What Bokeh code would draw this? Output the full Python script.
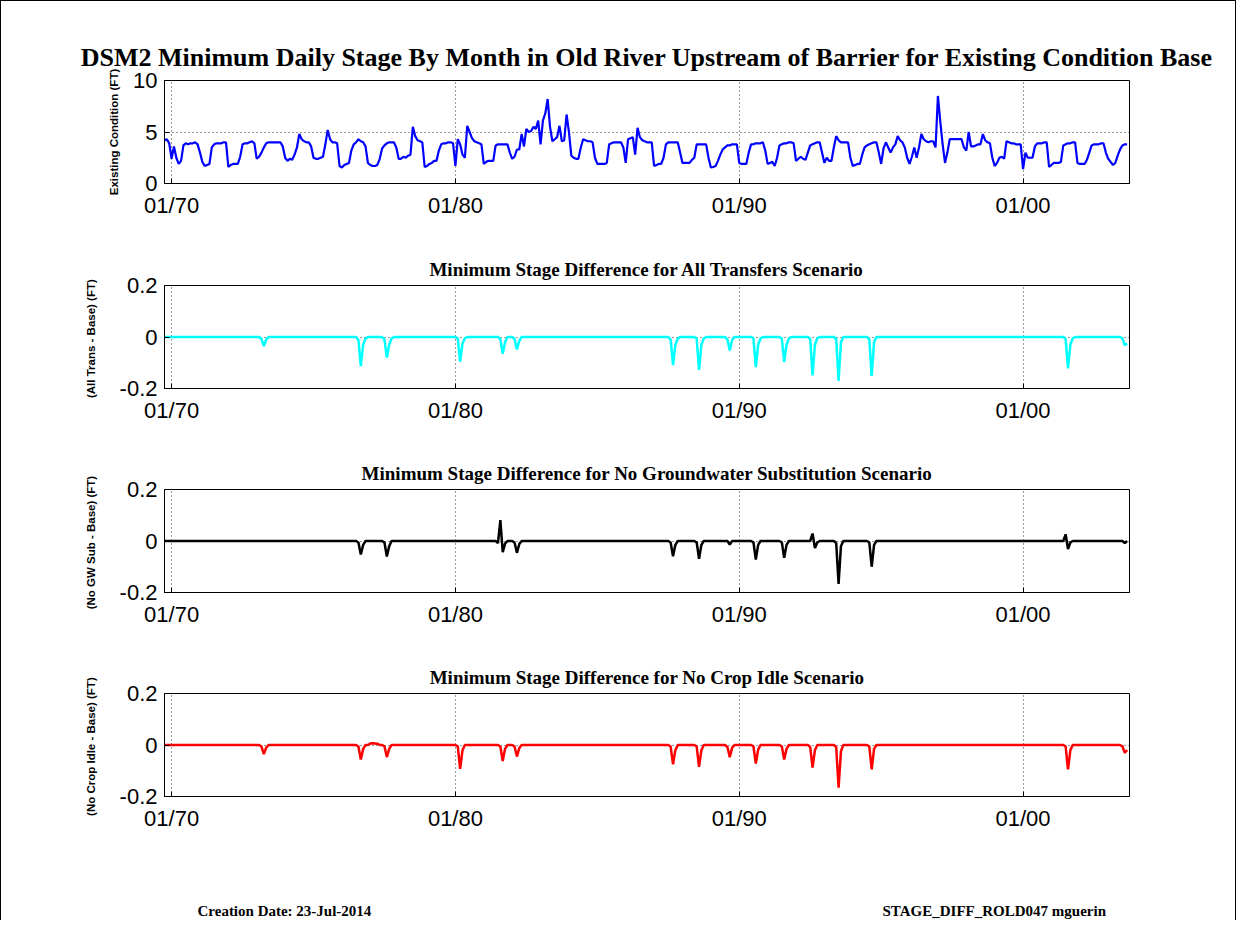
import numpy as np
from bokeh.plotting import figure
from bokeh.layouts import column
from bokeh.models import FixedTicker, Title
from bokeh.core.properties import value
from bokeh.embed import file_html
from bokeh.resources import INLINE

# ---------------- data ----------------
# monthly values, first month = Oct 1969, one row per water year (Oct..Sep)
existing_condition_ft = [
    4.2, 4.3, 3.9, 2.4, 3.6, 2.5, 1.9, 2.2, 3.7, 3.9, 3.8, 3.9,   # WY1970
    3.9, 4.0, 3.8, 3.0, 2.1, 1.7, 1.8, 1.9, 3.5, 3.8, 3.9, 3.9,   # WY1971
    3.9, 4.0, 4.0, 1.6, 1.8, 1.9, 1.9, 1.9, 2.6, 3.8, 3.9, 3.9,   # WY1972
    4.0, 4.1, 3.9, 2.4, 2.6, 3.0, 3.5, 3.9, 4.0, 4.0, 4.0, 4.0,   # WY1973
    4.0, 4.0, 3.6, 2.5, 2.2, 2.4, 2.3, 2.8, 3.5, 4.8, 4.3, 4.1,   # WY1974
    4.0, 4.0, 3.6, 2.5, 2.4, 2.4, 2.5, 2.6, 3.8, 5.2, 4.3, 4.0,   # WY1975
    4.0, 3.9, 1.7, 1.55, 1.8, 1.9, 2.0, 3.2, 3.8, 4.0, 4.3, 4.1,  # WY1976
    4.0, 3.6, 2.0, 1.8, 1.7, 1.7, 1.8, 2.4, 3.4, 3.7, 3.9, 4.0,   # WY1977
    4.0, 4.0, 3.5, 2.4, 2.4, 2.6, 2.5, 2.7, 2.8, 5.5, 4.6, 4.2,   # WY1978
    4.1, 4.0, 1.6, 1.7, 1.9, 2.0, 2.2, 2.2, 3.2, 3.8, 3.9, 3.9,   # WY1979
    4.0, 4.0, 3.9, 1.7, 4.3, 3.8, 2.8, 2.5, 5.6, 5.0, 4.4, 4.1,   # WY1980
    4.0, 3.9, 3.8, 1.9, 2.1, 2.2, 2.2, 2.2, 3.7, 3.8, 3.8, 3.8,   # WY1981
    3.8, 3.8, 3.0, 2.4, 2.6, 3.3, 3.3, 4.8, 3.6, 5.3, 5.0, 5.1,   # WY1982
    5.5, 5.3, 6.1, 3.8, 6.1, 6.8, 8.2, 5.5, 4.1, 4.3, 4.5, 5.6,   # WY1983
    4.1, 4.2, 6.7, 5.0, 2.7, 2.5, 2.4, 2.4, 3.5, 4.3, 4.2, 4.1,   # WY1984
    4.1, 4.0, 2.5, 1.9, 1.9, 1.9, 1.9, 2.0, 3.8, 3.9, 4.0, 4.0,   # WY1985
    4.0, 4.0, 3.5, 2.0, 4.3, 4.4, 4.5, 2.8, 5.4, 4.5, 4.2, 4.1,   # WY1986
    4.0, 4.0, 4.0, 1.7, 1.8, 1.9, 1.9, 2.5, 3.8, 4.0, 4.0, 4.0,   # WY1987
    4.0, 4.0, 3.0, 2.0, 2.0, 2.0, 2.0, 2.3, 2.5, 3.8, 3.8, 3.8,   # WY1988
    3.8, 3.8, 2.5, 1.55, 1.6, 1.7, 2.2, 2.8, 3.3, 3.5, 3.7, 3.7,  # WY1989
    3.8, 3.8, 3.8, 2.0, 1.9, 1.9, 1.9, 3.0, 3.8, 3.8, 3.9, 3.9,   # WY1990
    3.9, 4.0, 3.2, 1.9, 2.0, 2.1, 1.7, 2.5, 3.7, 3.8, 3.9, 3.9,   # WY1991
    4.0, 4.0, 3.9, 2.2, 2.4, 2.6, 2.4, 2.3, 3.0, 3.7, 3.8, 3.9,   # WY1992
    4.0, 4.0, 3.0, 2.0, 2.5, 2.2, 2.2, 3.5, 4.6, 4.2, 4.0, 4.0,   # WY1993
    4.0, 4.0, 2.5, 1.7, 1.8, 1.9, 1.9, 2.8, 3.5, 3.7, 3.8, 3.9,   # WY1994
    4.0, 4.0, 3.0, 1.9, 3.4, 4.0, 3.5, 3.0, 3.5, 3.8, 4.6, 4.2,   # WY1995
    4.0, 3.5, 2.5, 1.9, 2.6, 3.5, 2.5, 3.5, 4.8, 4.3, 4.1, 4.0,   # WY1996
    4.1, 4.1, 3.5, 8.5, 6.0, 3.8, 2.0, 3.0, 4.3, 4.3, 4.3, 4.3,   # WY1997
    4.3, 4.3, 3.5, 3.2, 5.0, 3.6, 3.6, 3.7, 3.8, 3.8, 4.8, 4.2,   # WY1998
    4.0, 3.9, 2.5, 1.7, 2.0, 2.5, 2.6, 2.4, 4.1, 4.0, 3.9, 3.9,   # WY1999
    3.8, 3.8, 3.8, 1.4, 3.0, 2.5, 2.5, 2.5, 3.6, 3.9, 3.9, 3.9,   # WY2000
    4.0, 4.0, 1.6, 1.8, 2.0, 2.0, 2.0, 2.1, 3.7, 3.8, 3.9, 3.9,   # WY2001
    4.0, 4.0, 2.0, 1.9, 1.9, 1.9, 2.3, 3.0, 3.7, 3.8, 3.8, 3.8,   # WY2002
    3.9, 3.9, 3.0, 2.4, 2.1, 1.8, 2.0, 2.7, 3.3, 3.7, 3.8, 3.8,   # WY2003
]

# stage differences (ft); months not listed are 0
all_trans_months = [
    "1973-03", "1973-04", "1973-05",
    "1976-08", "1976-09", "1976-10", "1976-11",
    "1977-07", "1977-08", "1977-09", "1977-10",
    "1980-02", "1980-03", "1980-04", "1980-05",
    "1981-08", "1981-09", "1981-10",
    "1982-02", "1982-03", "1982-04",
    "1987-08", "1987-09", "1987-10", "1987-11",
    "1988-07", "1988-08", "1988-09", "1988-10",
    "1989-08", "1989-09", "1989-10",
    "1990-07", "1990-08", "1990-09", "1990-10",
    "1991-07", "1991-08", "1991-09", "1991-10",
    "1992-07", "1992-08", "1992-09", "1992-10",
    "1993-06", "1993-07", "1993-08",
    "1994-08", "1994-09", "1994-10",
    "2001-07", "2001-08", "2001-09", "2001-10",
    "2003-07", "2003-08", "2003-09"]
all_trans_diff = [
    -0.008, -0.035, -0.01,
    -0.012, -0.113, -0.03, -0.006,
    -0.01, -0.08, -0.03, -0.006,
    -0.005, -0.096, -0.025, -0.005,
    -0.008, -0.065, -0.02,
    -0.008, -0.048, -0.015,
    -0.01, -0.109, -0.03, -0.006,
    -0.006, -0.128, -0.03, -0.006,
    -0.01, -0.052, -0.012,
    -0.005, -0.117, -0.03, -0.006,
    -0.006, -0.097, -0.03, -0.006,
    -0.008, -0.149, -0.03, -0.005,
    -0.008, -0.171, -0.02,
    -0.01, -0.151, -0.02,
    -0.008, -0.122, -0.03, -0.005,
    -0.005, -0.032, -0.025]

no_gw_months = [
    "1976-08", "1976-09", "1976-10",
    "1977-07", "1977-08", "1977-09",
    "1981-07", "1981-08", "1981-09", "1981-10",
    "1982-02", "1982-03", "1982-04",
    "1987-08", "1987-09", "1987-10",
    "1988-07", "1988-08", "1988-09",
    "1989-09",
    "1990-07", "1990-08", "1990-09",
    "1991-07", "1991-08", "1991-09",
    "1992-08", "1992-09", "1992-10",
    "1993-06", "1993-07", "1993-08",
    "1994-08", "1994-09", "1994-10",
    "2001-07", "2001-08", "2001-09",
    "2003-08"]
no_gw_diff = [
    -0.006, -0.052, -0.015,
    -0.006, -0.06, -0.02,
    -0.008, 0.081, -0.043, -0.01,
    -0.006, -0.046, -0.012,
    -0.006, -0.059, -0.015,
    -0.005, -0.069, -0.015,
    -0.014,
    -0.005, -0.072, -0.015,
    -0.005, -0.065, -0.015,
    0.029, -0.027, -0.006,
    -0.008, -0.167, -0.02,
    -0.006, -0.10, -0.015,
    0.026, -0.031, -0.006,
    -0.008]

no_crop_months = [
    "1973-03", "1973-04", "1973-05",
    "1976-08", "1976-09", "1976-10",
    "1977-01", "1977-02", "1977-03", "1977-04",
    "1977-07", "1977-08", "1977-09",
    "1980-02", "1980-03", "1980-04",
    "1981-08", "1981-09", "1981-10",
    "1982-02", "1982-03", "1982-04",
    "1987-08", "1987-09", "1987-10",
    "1988-07", "1988-08", "1988-09",
    "1989-08", "1989-09", "1989-10",
    "1990-07", "1990-08", "1990-09",
    "1991-07", "1991-08", "1991-09",
    "1992-07", "1992-08", "1992-09",
    "1993-06", "1993-07", "1993-08",
    "1994-08", "1994-09", "1994-10",
    "2001-07", "2001-08", "2001-09",
    "2003-07", "2003-08", "2003-09"]
no_crop_diff = [
    -0.006, -0.035, -0.01,
    -0.006, -0.056, -0.015,
    0.006, 0.007, 0.006, 0.005,
    -0.005, -0.047, -0.015,
    -0.005, -0.093, -0.02,
    -0.006, -0.062, -0.015,
    -0.006, -0.045, -0.012,
    -0.006, -0.075, -0.02,
    -0.005, -0.085, -0.02,
    -0.008, -0.047, -0.01,
    -0.005, -0.072, -0.018,
    -0.005, -0.056, -0.015,
    -0.008, -0.088, -0.02,
    -0.008, -0.166, -0.025,
    -0.006, -0.095, -0.015,
    -0.005, -0.095, -0.02,
    -0.005, -0.03, -0.02]

x_tick_years = [1970, 1980, 1990, 2000]
x_tick_labels = ["01/70", "01/80", "01/90", "01/00"]

footer_texts = ["Creation Date:  23-Jul-2014", "STAGE_DIFF_ROLD047 mguerin"]

# ---------------- helpers ----------------
N = len(existing_condition_ft)
x_years = 1969.75 + np.arange(N) / 12.0


def month_index(s):
    y, m = map(int, s.split("-"))
    return (y - 1969) * 12 + (m - 10)


def sparse(months, values):
    arr = np.zeros(N)
    for s, v in zip(months, values):
        arr[month_index(s)] = v
    return arr


FRAME_W, FRAME_H = 965, 103
LEFT, RIGHT = 163, 106


def make_fig(yr, yticks, ylabels, ylabel, top, bottom, title, tsize, tstand, lstand):
    p = figure(frame_width=FRAME_W, frame_height=FRAME_H,
               x_range=(1969.75, 2003.75), y_range=yr,
               min_border_left=LEFT, min_border_right=RIGHT,
               min_border_top=top, min_border_bottom=bottom,
               output_backend="svg", toolbar_location=None,
               background_fill_color="white", border_fill_color="white")
    p.title = Title(text=title, align="center", text_font="Liberation Serif",
                    text_font_size=tsize, text_font_style="bold", text_color="black",
                    standoff=tstand)
    p.outline_line_color = "black"
    p.outline_line_alpha = 1.0
    p.outline_line_width = 1
    p.xaxis.ticker = FixedTicker(ticks=x_tick_years)
    p.xaxis.major_label_overrides = dict(zip(x_tick_years, x_tick_labels))
    p.yaxis.ticker = FixedTicker(ticks=yticks)
    p.yaxis.major_label_overrides = dict(zip(yticks, ylabels))
    p.yaxis.axis_label = ylabel
    p.yaxis.axis_label_text_font = "Liberation Sans"
    p.yaxis.axis_label_text_font_size = "11.5px"
    p.yaxis.axis_label_text_font_style = "bold"
    p.yaxis.axis_label_text_color = "black"
    p.yaxis.axis_label_standoff = lstand
    for ax in (p.xaxis, p.yaxis):
        ax.axis_line_color = "black"
        ax.major_tick_in = 5
        ax.major_tick_out = 0
        ax.minor_tick_in = 0
        ax.minor_tick_out = 0
        ax.major_tick_line_color = "black"
        ax.major_label_text_font = "Liberation Sans"
        ax.major_label_text_font_size = "22px"
        ax.major_label_text_color = "black"
    p.xaxis.major_label_standoff = 9
    p.yaxis.major_label_standoff = 7
    p.xgrid.ticker = FixedTicker(ticks=x_tick_years)
    p.ygrid.ticker = FixedTicker(ticks=yticks)
    for g in (p.xgrid, p.ygrid):
        g.grid_line_color = "black"
        g.grid_line_dash = "1 3"
        g.grid_line_alpha = 0.8
        g.grid_line_width = 1
    return p


diff_ticks = [-0.2, 0, 0.2]
diff_labels = ["-0.2", "0", "0.2"]

p1 = make_fig((0, 10), [0, 5, 10], ["0", "5", "10"], "Existing Condition (FT)",
              79, 51,
              "DSM2 Minimum Daily Stage By Month in Old River Upstream of Barrier for Existing Condition Base",
              "26px", 18, 10)
p1.line(x_years, existing_condition_ft, line_color="#0000FF", line_width=2.2)

p2 = make_fig((-0.2, 0.2), diff_ticks, diff_labels, "(All Trans  - Base) (FT)",
              51, 50, "Minimum Stage Difference for All Transfers Scenario", "19px", 12, 20)
p2.line(x_years, sparse(all_trans_months, all_trans_diff), line_color="#00FFFF", line_width=2.5)

p3 = make_fig((-0.2, 0.2), diff_ticks, diff_labels, "(No GW Sub  - Base) (FT)",
              51, 50, "Minimum Stage Difference for No Groundwater Substitution Scenario", "19px", 12, 20)
p3.line(x_years, sparse(no_gw_months, no_gw_diff), line_color="black", line_width=2.5)

p4 = make_fig((-0.2, 0.2), diff_ticks, diff_labels, "(No Crop Idle  - Base) (FT)",
              51, 51, "Minimum Stage Difference for No Crop Idle Scenario", "19px", 12, 20)
p4.line(x_years, sparse(no_crop_months, no_crop_diff), line_color="#FF0000", line_width=2.5)

# footer strip, with the same frame geometry as the plots above
FOOT_H = 73
pf = figure(frame_width=FRAME_W, frame_height=FOOT_H, x_range=(0, FRAME_W), y_range=(0, FOOT_H),
            min_border_left=LEFT, min_border_right=RIGHT, min_border_top=0, min_border_bottom=0,
            output_backend="svg", toolbar_location=None,
            background_fill_color="white", border_fill_color="white")
pf.axis.visible = False
pf.grid.visible = False
pf.outline_line_color = None
pf.text(x=[33, 718], y=[10, 10], text=footer_texts,
        text_font=value("Liberation Serif"), text_font_size="15px",
        text_font_style="bold", text_baseline="middle", text_align="left",
        text_color="black")

layout = column(p1, p2, p3, p4, pf, spacing=0,
                styles={"border-left": "1px solid black", "border-top": "1px solid black",
                        "border-right": "1px solid black"})

open("out.html", "w").write(file_html(layout, INLINE))
